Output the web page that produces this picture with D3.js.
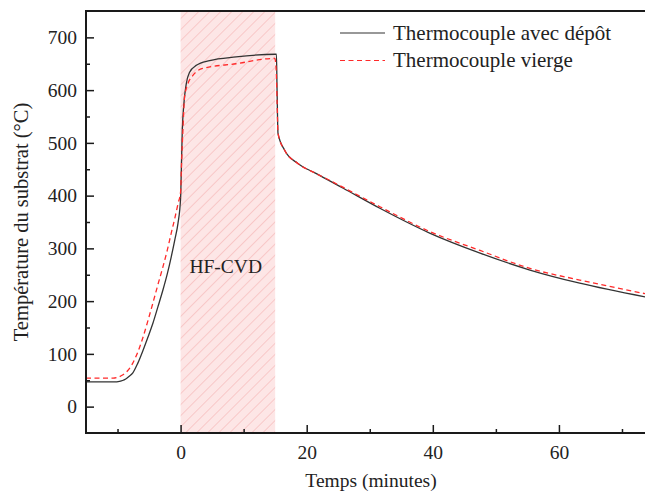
<!DOCTYPE html>
<html lang="fr">
<head>
    <meta charset="UTF-8">
    <title>Température du substrat</title>
    <script src="https://cdnjs.cloudflare.com/ajax/libs/d3/7.8.5/d3.min.js"></script>
    <style>
        body { margin: 0; background: #fff; }
        svg { display: block; font-family: "Liberation Serif", "DejaVu Serif", serif; }
    </style>
</head>
<body>
<div class="chart-container"></div>
<script>
    const width = 645
    const height = 494
    const padding = { top: 11, right: 0, bottom: 61, left: 86 }

    // temps (minutes) et température (°C)
    const timeDepot = [-15, -12, -10.5, -9.7, -9.2, -8.7, -8.2, -7.57, -6.8, -5.98, -5.2, -4.39, -3.6, -2.8, -2.1, -1.48, -0.9, -0.42, 0,
        0.1, 0.27, 0.48, 0.9, 1.43, 2.5, 4.6, 8.8, 15.05, 15.2, 15.3, 15.45, 16.5, 18.6, 21.3, 23.65, 25.8, 31.6, 39.5, 47.5, 55.4, 63.3, 73.7]
    const tempDepot = [47, 47, 47, 48, 49.5, 52.5, 57, 64, 82, 106, 131, 158, 189, 221, 252, 284, 317, 347, 395,
        440, 524, 568, 612, 634, 647, 656, 663, 668, 668, 600, 518, 486, 461, 443, 428, 414, 376, 329, 291, 259, 234, 208]

    const timeVierge = [-15, -12, -10.7, -10, -9.2, -8.4, -7.6, -6.8, -6, -5.2, -4.4, -3.6, -2.8, -2.1, -1.5, -0.9, -0.4, 0,
        0.15, 0.37, 0.63, 1.16, 1.95, 3.5, 8.8, 14.65, 14.95, 15.15, 15.3, 15.45, 16.5, 18.6, 21.3, 23.65, 25.8, 31.6, 39.5, 47.5, 55.4, 63.3, 73.7]
    const tempVierge = [54, 54, 54, 55.5, 60, 68, 82, 103, 130, 162, 196, 231, 265, 297, 328, 358, 385, 407,
        460, 524, 587, 612, 628, 641, 650, 660, 660, 640, 580, 518, 486, 461, 443, 429, 415.5, 379, 332, 296, 262, 240, 214]

    const seriesNames = ['Thermocouple avec dépôt', 'Thermocouple vierge']
    const xTicks = [0, 20, 40, 60]
    const xMinorTicks = [-10, 10, 30, 50, 70]
    const yTicks = [0, 100, 200, 300, 400, 500, 600, 700]
    const yMinorTicks = [50, 150, 250, 350, 450, 550, 650]
    const hfcvd = [0, 15]

    const seriesData = [
        { name: seriesNames[0], points: timeDepot.map((t, i) => [t, tempDepot[i]]), color: '#333333', dash: null },
        { name: seriesNames[1], points: timeVierge.map((t, i) => [t, tempVierge[i]]), color: '#ff2a2a', dash: '5,3.5' }
    ]

    const xScale = d3.scaleLinear()
        .domain([-15, 73.65])
        .range([padding.left, width - padding.right])

    const yScale = d3.scaleLinear()
        .domain([-50, 750])
        .range([height - padding.bottom, padding.top])

    const svg = d3.select('.chart-container')
        .append('svg')
        .attr('width', width)
        .attr('height', height)

    const defs = svg.append('defs')
    const pattern = defs.append('pattern')
        .attr('id', 'hatch')
        .attr('patternUnits', 'userSpaceOnUse')
        .attr('width', 7.8)
        .attr('height', 7.8)
        .attr('patternTransform', 'rotate(45)')
    pattern.append('rect')
        .attr('width', 7.8).attr('height', 7.8)
        .attr('fill', '#fde6e6')
    pattern.append('line')
        .attr('x1', 0).attr('y1', 0).attr('x2', 0).attr('y2', 7.8)
        .attr('stroke', '#f6b3b3')
        .attr('stroke-width', 1.2)

    defs.append('clipPath').attr('id', 'plot-clip')
        .append('rect')
        .attr('x', padding.left).attr('y', padding.top)
        .attr('width', width - padding.left - padding.right)
        .attr('height', height - padding.top - padding.bottom)

    // zone HF-CVD
    svg.append('rect')
        .attr('x', xScale(hfcvd[0]))
        .attr('y', padding.top)
        .attr('width', xScale(hfcvd[1]) - xScale(hfcvd[0]))
        .attr('height', height - padding.top - padding.bottom)
        .attr('fill', 'url(#hatch)')

    svg.append('text')
        .attr('x', xScale(1.4))
        .attr('y', 273)
        .attr('font-size', '19.5px')
        .attr('fill', '#222')
        .text('HF-CVD')

    const line = d3.line()
        .x(d => xScale(d[0]))
        .y(d => yScale(d[1]))
        .curve(d3.curveMonotoneX)

    svg.append('g')
        .attr('clip-path', 'url(#plot-clip)')
        .selectAll('.serie')
        .data(seriesData)
        .enter()
        .append('path')
        .attr('class', 'serie')
        .attr('d', d => line(d.points))
        .attr('fill', 'none')
        .attr('stroke', d => d.color)
        .attr('stroke-width', 1.3)
        .attr('stroke-dasharray', d => d.dash)

    // axes (graduations vers l'intérieur)
    const xAxis = d3.axisBottom(xScale).tickValues(xTicks).tickSize(-8).tickPadding(12).tickFormat(d3.format('d'))
    const xMinor = d3.axisBottom(xScale).tickValues(xMinorTicks).tickSize(-4).tickFormat('')
    const yAxis = d3.axisLeft(yScale).tickValues(yTicks).tickSize(-8).tickPadding(9).tickFormat(d3.format('d'))
    const yMinor = d3.axisLeft(yScale).tickValues(yMinorTicks).tickSize(-4).tickFormat('')

    function styleAxis(g) {
        g.select('.domain').remove()
        g.selectAll('line').attr('stroke', '#1a1a1a').attr('stroke-width', 1.5)
        g.selectAll('text').attr('fill', '#222').attr('font-size', '19.5px').attr('font-family', '"Liberation Serif", serif')
    }

    svg.append('g').attr('transform', `translate(0, ${height - padding.bottom})`).call(xAxis).call(styleAxis)
    svg.append('g').attr('transform', `translate(0, ${height - padding.bottom})`).call(xMinor).call(styleAxis)
    svg.append('g').attr('transform', `translate(${padding.left}, 0)`).call(yAxis).call(styleAxis)
    svg.append('g').attr('transform', `translate(${padding.left}, 0)`).call(yMinor).call(styleAxis)

    // cadre : gauche, bas, haut
    const frame = svg.append('g').attr('stroke', '#1a1a1a').attr('stroke-width', 2)
    frame.append('line').attr('x1', padding.left).attr('x2', padding.left).attr('y1', padding.top - 1).attr('y2', height - padding.bottom + 1)
    frame.append('line').attr('x1', padding.left - 1).attr('x2', width).attr('y1', height - padding.bottom).attr('y2', height - padding.bottom)
    frame.append('line').attr('x1', padding.left - 1).attr('x2', width).attr('y1', padding.top).attr('y2', padding.top)

    // titres des axes
    svg.append('text')
        .attr('x', 371)
        .attr('y', 487)
        .attr('text-anchor', 'middle')
        .attr('font-size', '19.5px')
        .attr('fill', '#222')
        .text('Temps (minutes)')

    svg.append('text')
        .attr('transform', `translate(28, ${(padding.top + height - padding.bottom) / 2}) rotate(-90)`)
        .attr('text-anchor', 'middle')
        .attr('font-size', '20.5px')
        .attr('fill', '#222')
        .text('Température du substrat (°C)')

    // légende
    const legend = svg.append('g')
        .selectAll('.legend')
        .data(seriesData)
        .enter()
        .append('g')
        .attr('class', 'legend')
        .attr('transform', (d, i) => `translate(340, ${33 + i * 27.5})`)

    legend.append('line')
        .attr('x1', 0).attr('x2', 45)
        .attr('stroke', d => d.color)
        .attr('stroke-width', 1.2)
        .attr('stroke-dasharray', d => d.dash)

    legend.append('text')
        .attr('x', 53)
        .attr('y', 6.5)
        .attr('font-size', '21px')
        .attr('fill', '#222')
        .text(d => d.name)
</script>
</body>
</html>
